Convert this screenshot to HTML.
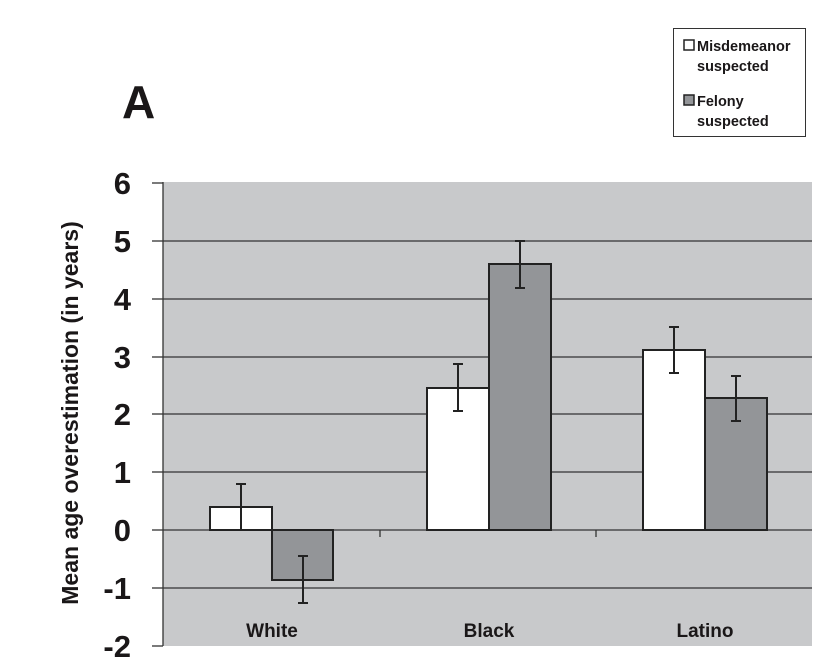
<!DOCTYPE html>
<html><head><style>body{margin:0;background:#fff}svg{display:block}</style></head><body>
<svg width="834" height="669" xmlns="http://www.w3.org/2000/svg" font-family="Liberation Sans, sans-serif" font-weight="bold">
<rect x="163" y="182" width="649" height="464" fill="#c8c9cb"/>
<g stroke="#333" stroke-width="1.3">
<line x1="163" y1="241" x2="812" y2="241"/><line x1="163" y1="299" x2="812" y2="299"/>
<line x1="163" y1="357" x2="812" y2="357"/><line x1="163" y1="414" x2="812" y2="414"/>
<line x1="163" y1="472" x2="812" y2="472"/><line x1="163" y1="530" x2="812" y2="530"/>
<line x1="163" y1="588" x2="812" y2="588"/>
<line x1="163" y1="182" x2="163" y2="646"/>
<line x1="152" y1="183" x2="163" y2="183"/><line x1="152" y1="241" x2="163" y2="241"/><line x1="152" y1="299" x2="163" y2="299"/><line x1="152" y1="357" x2="163" y2="357"/><line x1="152" y1="414" x2="163" y2="414"/><line x1="152" y1="472" x2="163" y2="472"/><line x1="152" y1="530" x2="163" y2="530"/><line x1="152" y1="588" x2="163" y2="588"/><line x1="152" y1="646" x2="163" y2="646"/>
<line x1="380" y1="530" x2="380" y2="537"/><line x1="596" y1="530" x2="596" y2="537"/>
</g>
<g stroke="#222" stroke-width="2">
<rect x="210" y="507" width="62" height="23" fill="#fff"/>
<rect x="272" y="530" width="61" height="50" fill="#939598"/>
<rect x="427" y="388" width="62" height="142" fill="#fff"/>
<rect x="489" y="264" width="62" height="266" fill="#939598"/>
<rect x="643" y="350" width="62" height="180" fill="#fff"/>
<rect x="705" y="398" width="62" height="132" fill="#939598"/>
</g>
<g stroke="#222" stroke-width="2">
<path d="M241 484V530M236 484H246M236 530H246"/>
<path d="M303 556V603M298 556H308M298 603H308"/>
<path d="M458 364V411M453 364H463M453 411H463"/>
<path d="M520 241V288M515 241H525M515 288H525"/>
<path d="M674 327V373M669 327H679M669 373H679"/>
<path d="M736 376V421M731 376H741M731 421H741"/>
</g>
<g font-size="31" fill="#1a1718" text-anchor="end">
<text x="131" y="194">6</text><text x="131" y="252">5</text><text x="131" y="310">4</text><text x="131" y="368">3</text><text x="131" y="425">2</text><text x="131" y="483">1</text><text x="131" y="541">0</text><text x="131" y="599">-1</text><text x="131" y="657">-2</text>
</g>
<g font-size="19" fill="#1a1718" text-anchor="middle">
<text x="272" y="637">White</text><text x="489" y="637">Black</text><text x="705" y="637">Latino</text>
</g>
<text transform="translate(78,413) rotate(-90)" font-size="23" fill="#1a1718" text-anchor="middle">Mean age overestimation (in years)</text>
<text x="122" y="118" font-size="46" fill="#1a1718">A</text>
<rect x="673.5" y="28.5" width="132" height="108" fill="#fff" stroke="#333" stroke-width="1"/>
<rect x="684" y="40" width="10" height="10" fill="#fff" stroke="#222" stroke-width="1.5"/>
<rect x="684" y="95" width="10" height="10" fill="#939598" stroke="#222" stroke-width="1.5"/>
<g font-size="14.5" fill="#1a1718">
<text x="697" y="51">Misdemeanor</text><text x="697" y="71">suspected</text>
<text x="697" y="106">Felony</text><text x="697" y="126">suspected</text>
</g>
</svg>
</body></html>
